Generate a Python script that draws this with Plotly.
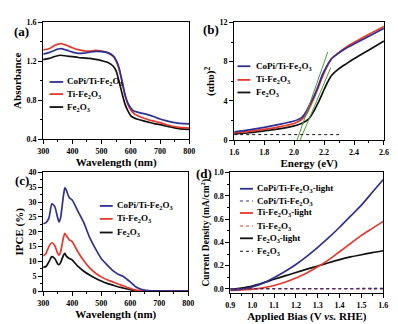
import plotly.graph_objects as go

W, H = 398, 324
FONT = "Liberation Serif"
BLUE = "#2f3192"
RED = "#e8372b"
BLACK = "#111111"
GREEN = "#4f9a3c"

# ---------------- (a) UV-vis absorbance ----------------
a_wl = [300, 320, 340, 360, 380, 400, 420, 440, 460, 480, 500, 520, 540, 550, 560, 570,
        580, 590, 600, 610, 620, 640, 660, 680, 700, 720, 740, 760, 780, 800]
a_copi = [1.273, 1.29, 1.315, 1.33, 1.315, 1.295, 1.283, 1.285, 1.295, 1.303, 1.30, 1.29, 1.257, 1.21,
          1.13, 0.99, 0.86, 0.77, 0.72, 0.69, 0.68, 0.665, 0.65, 0.63, 0.607, 0.59, 0.575, 0.565, 0.56, 0.557]
a_ti = [1.317, 1.33, 1.365, 1.383, 1.365, 1.34, 1.32, 1.307, 1.305, 1.313, 1.305, 1.29, 1.25, 1.20,
        1.12, 1.0, 0.85, 0.757, 0.70, 0.665, 0.645, 0.62, 0.60, 0.585, 0.57, 0.55, 0.535, 0.523, 0.518, 0.513]
a_fe = [1.217, 1.23, 1.25, 1.263, 1.255, 1.248, 1.24, 1.235, 1.23, 1.22, 1.207, 1.19, 1.15, 1.10,
        0.99, 0.87, 0.76, 0.69, 0.64, 0.62, 0.607, 0.59, 0.575, 0.56, 0.55, 0.535, 0.522, 0.51, 0.503, 0.50]

# ---------------- (b) Tauc plot ----------------
b_e = [1.6, 1.7, 1.8, 1.9, 2.0, 2.05, 2.08, 2.1, 2.13, 2.16, 2.19, 2.22, 2.25, 2.3, 2.35, 2.4, 2.5, 2.6]
b_copi = [0.85, 1.05, 1.3, 1.6, 1.95, 2.3, 2.9, 3.5, 4.4, 5.5, 6.7, 7.6, 8.3, 8.9, 9.4, 9.8, 10.6, 11.4]
b_ti = [0.75, 0.9, 1.1, 1.35, 1.7, 2.1, 2.6, 3.2, 4.2, 5.3, 6.5, 7.5, 8.3, 8.95, 9.5, 9.95, 10.8, 11.6]
b_fe = [0.62, 0.75, 0.95, 1.15, 1.45, 1.7, 1.95, 2.2, 2.9, 3.8, 4.8, 5.8, 6.6, 7.3, 7.8, 8.3, 9.2, 10.1]
b_fit1_e = [2.02, 2.225]
b_fit1_y = [0.0, 9.0]
b_fit2_e = [2.04, 2.245]
b_fit2_y = [0.0, 7.4]
b_base_e = [1.6, 2.3]
b_base_y = [0.56, 0.56]

# ---------------- (c) IPCE ----------------
c_wl = [300, 310, 320, 330, 340, 350, 355, 360, 370, 375, 380, 390, 400, 420, 440, 460, 480, 500,
        520, 540, 560, 575, 590, 600, 620, 640, 660, 700, 750, 800]
c_copi = [22.7, 23.1, 24.7, 29.4, 28.5, 24.7, 23.3, 24.7, 32.3, 34.9, 34.0, 31.5, 30.7, 26.9, 23.1,
          18.1, 14.3, 11.0, 8.85, 6.9, 5.6, 5.0, 3.9, 3.1, 1.4, 0.55, 0.2, 0.05, 0.0, 0.0]
c_ti = [11.9, 12.7, 15.1, 16.3, 15.4, 12.7, 12.1, 13.2, 18.1, 19.5, 18.7, 17.3, 16.7, 13.2, 10.2,
        7.8, 6.1, 4.8, 3.8, 3.1, 2.3, 1.8, 1.2, 0.9, 0.3, 0.05, 0.0, 0.0, 0.0, 0.0]
c_fe = [8.0, 8.3, 9.9, 11.6, 11.0, 9.2, 8.9, 9.6, 12.1, 12.7, 11.8, 11.0, 10.5, 8.3, 6.7,
        5.4, 4.3, 3.4, 2.6, 2.0, 1.4, 1.05, 0.7, 0.45, 0.1, 0.0, 0.0, 0.0, 0.0, 0.0]

# ---------------- (d) J-V ----------------
d_v = [0.90, 0.95, 1.00, 1.05, 1.10, 1.15, 1.20, 1.25, 1.30, 1.35, 1.40, 1.45, 1.50, 1.55, 1.60]
d_copi_light = [-0.011, -0.002, 0.017, 0.05, 0.097, 0.15, 0.21, 0.28, 0.357, 0.44, 0.53, 0.625, 0.72, 0.83, 0.94]
d_copi_dark = [0.002, 0.002, 0.002, 0.002, 0.002, 0.002, 0.002, 0.002, 0.002, 0.002, 0.002, 0.002, 0.002, 0.003, 0.003]
d_ti_light = [-0.012, -0.008, -0.002, 0.01, 0.03, 0.058, 0.094, 0.138, 0.19, 0.25, 0.32, 0.39, 0.46, 0.52, 0.58]
d_ti_dark = [0.0, 0.0, 0.0, 0.0, 0.0, 0.0, 0.0, 0.0, 0.0, 0.0, 0.001, 0.001, 0.001, 0.001, 0.001]
d_fe_light = [-0.005, 0.008, 0.025, 0.052, 0.083, 0.112, 0.141, 0.17, 0.197, 0.225, 0.252, 0.275, 0.294, 0.312, 0.328]
d_fe_dark = [0.004, 0.004, 0.004, 0.004, 0.004, 0.004, 0.004, 0.004, 0.004, 0.004, 0.004, 0.004, 0.005, 0.005, 0.005]

L_COPI = "CoPi/Ti-Fe<sub>2</sub>O<sub>3</sub>"
L_TI = "Ti-Fe<sub>2</sub>O<sub>3</sub>"
L_FE = "Fe<sub>2</sub>O<sub>3</sub>"

fig = go.Figure()

def add(x, y, color, xa, ya, name, dash="solid", width=1.7):
    fig.add_trace(go.Scatter(x=x, y=y, mode="lines", name=name, showlegend=False,
                             line=dict(color=color, width=width, dash=dash, shape="spline", smoothing=0.6),
                             xaxis=xa, yaxis=ya))

# (a)
add(a_wl, a_fe, BLACK, "x", "y", L_FE)
add(a_wl, a_ti, RED, "x", "y", L_TI)
add(a_wl, a_copi, BLUE, "x", "y", L_COPI)
# (b)
add(b_e, b_fe, BLACK, "x2", "y2", L_FE)
add(b_e, b_ti, RED, "x2", "y2", L_TI)
add(b_e, b_copi, BLUE, "x2", "y2", L_COPI)
add(b_fit1_e, b_fit1_y, GREEN, "x2", "y2", "fit 1", width=1)
add(b_fit2_e, b_fit2_y, GREEN, "x2", "y2", "fit 2", width=1)
add(b_base_e, b_base_y, BLACK, "x2", "y2", "baseline", dash="dot", width=1)
# (c)
add(c_wl, c_fe, BLACK, "x3", "y3", L_FE)
add(c_wl, c_ti, RED, "x3", "y3", L_TI)
add(c_wl, c_copi, BLUE, "x3", "y3", L_COPI)
# (d)
add(d_v, d_fe_light, BLACK, "x4", "y4", L_FE + "-light")
add(d_v, d_ti_light, RED, "x4", "y4", L_TI + "-light")
add(d_v, d_copi_light, BLUE, "x4", "y4", L_COPI + "-light")
add(d_v, d_fe_dark, BLACK, "x4", "y4", L_FE, dash="dot", width=1.1)
add(d_v, d_ti_dark, RED, "x4", "y4", L_TI, dash="dot", width=1.1)
add(d_v, d_copi_dark, BLUE, "x4", "y4", L_COPI, dash="dot", width=1.1)

def px_dom_x(l, r):
    return [l / W, r / W]

def px_dom_y(t, b):
    return [1 - b / H, 1 - t / H]

tickfont = dict(family=FONT, size=8, color="black", weight="bold")
titlefont = dict(family=FONT, size=11, color="black", weight="bold")

def axis(dom, rng, dtick, minor, title, anchor, standoff):
    return dict(domain=dom, range=rng, dtick=dtick, tick0=rng[0],
                showgrid=False, zeroline=False, showline=True, linecolor="black", linewidth=1,
                mirror=True, ticks="outside", ticklen=4, tickwidth=1, tickcolor="black",
                minor=dict(ticks="outside", ticklen=2, dtick=minor, tickcolor="black"),
                tickfont=tickfont, anchor=anchor,
                title=dict(text=title, font=titlefont, standoff=standoff))

layout = dict(
    width=W, height=H, margin=dict(l=0, r=0, t=0, b=0),
    paper_bgcolor="white", plot_bgcolor="white",
    font=dict(family=FONT, color="black"),
    showlegend=False,
    xaxis=axis(px_dom_x(38.3, 189), [300, 800], 100, 50, "Wavelength (nm)", "y", 2),
    yaxis=axis(px_dom_y(19, 139), [0.4, 1.6], 0.4, 0.2, "Absorbance", "x", 2),
    xaxis2=axis(px_dom_x(235.3, 389.7), [1.6, 2.6], 0.2, 0.1, "Energy (eV)", "y2", 2),
    yaxis2=axis(px_dom_y(19, 140), [0, 12], 4, 2, "(αhυ)<sup>2</sup>", "x2", 2),
    xaxis3=axis(px_dom_x(38.3, 188), [300, 800], 100, 50, "Wavelength (nm)", "y3", 2),
    yaxis3=axis(px_dom_y(173.3, 295.3), [0, 40], 5, 2.5, "IPCE (%)", "x3", 2),
    xaxis4=axis(px_dom_x(231.3, 389), [0.9, 1.6], 0.1, 0.05, "Applied Bias (V <i>vs.</i> RHE)", "y4", 2),
    yaxis4=axis(px_dom_y(173.3, 297.3), [-0.035, 1.0], 0.2, 0.1, "Current Density (mA/cm<sup>2</sup>)", "x4", 2),
)
layout["yaxis"]["tickformat"] = ".1f"
layout["xaxis2"]["tickformat"] = ".1f"
layout["yaxis4"]["tickformat"] = ".1f"
layout["yaxis4"]["tick0"] = 0
layout["xaxis4"]["tickformat"] = ".1f"
layout["yaxis4"]["title"]["font"] = dict(family=FONT, size=9.5, color="black", weight="bold")
fig.update_layout(**layout)

# custom legends (sample line + label) positioned in axis-domain coordinates
legends = [
    ("x", "y", [(BLUE, "solid", L_COPI, 0.49), (RED, "solid", L_TI, 0.386), (BLACK, "solid", L_FE, 0.275)], 0.044, 0.137, 0.151),
    ("x2", "y2", [(BLUE, "solid", L_COPI, 0.628), (RED, "solid", L_TI, 0.512), (BLACK, "solid", L_FE, 0.405)], 0.022, 0.108, 0.13),
    ("x3", "y3", [(BLUE, "solid", L_COPI, 0.718), (RED, "solid", L_TI, 0.609), (BLACK, "solid", L_FE, 0.494)], 0.39, 0.479, 0.495),
    ("x4", "y4", [(BLUE, "solid", L_COPI + "-light", 0.865), (BLUE, "dot", L_COPI, 0.763),
                  (RED, "solid", L_TI + "-light", 0.664), (RED, "dot", L_TI, 0.556),
                  (BLACK, "solid", L_FE + "-light", 0.454), (BLACK, "dot", L_FE, 0.347)], 0.063, 0.148, 0.161),
]
legfont = dict(family=FONT, size=9, color="black", weight="bold")
for xa, ya, items, x0, x1, xt in legends:
    for color, dash, label, yy in items:
        fig.add_shape(type="line", xref=f"{xa} domain", yref=f"{ya} domain", x0=x0, x1=x1, y0=yy, y1=yy,
                      line=dict(color=color, width=1.8 if dash == "solid" else 1.1, dash=dash))
        fig.add_annotation(xref=f"{xa} domain", yref=f"{ya} domain", x=xt, y=yy, text=label,
                           showarrow=False, xanchor="left", yanchor="middle", font=legfont)

# panel letters
for txt, x, y in [("(a)", 16, 28), ("(b)", 211, 26), ("(c)", 16, 182), ("(d)", 204, 174)]:
    fig.add_annotation(xref="paper", yref="paper", x=x / W, y=1 - y / H, text=txt, showarrow=False,
                       xanchor="center", yanchor="middle",
                       font=dict(family=FONT, size=13, color="black", weight="bold"))

fig.write_html("out.html")
